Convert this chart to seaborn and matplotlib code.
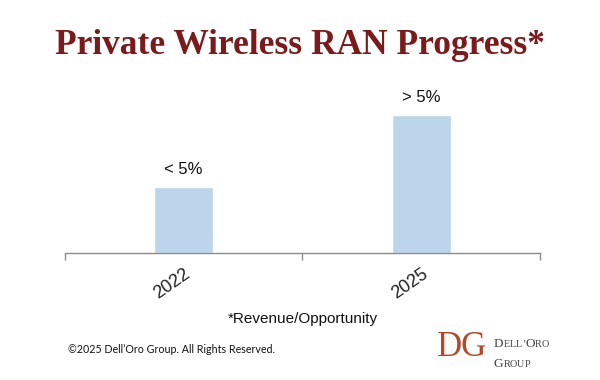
import matplotlib
matplotlib.use("Agg")
import matplotlib.pyplot as plt
import pandas as pd
import seaborn as sns

# chart data
years = ["2022", "2025"]
share = [2.4, 5.0]  # relative bar heights
bar_labels = ["< 5%", "> 5%"]

df = pd.DataFrame({"year": years, "share": share})

sns.set_theme(style="white")
plt.rcParams["font.family"] = ["Liberation Sans", "DejaVu Sans"]

fig = plt.figure(figsize=(6, 3.8), dpi=100)
ax = fig.add_axes([0.108, 0.334, 0.792, 0.437])

sns.barplot(data=df, x="year", y="share", color="#BDD5EA", width=0.25,
            saturation=1, ax=ax)
ax.bar_label(ax.containers[0], labels=bar_labels, padding=7, fontsize=12,
             color="#111111")

ax.set_xlim(-0.5, 1.5)
ax.set_ylim(0, 6)
ax.set_yticks([])
ax.set_ylabel("")
for side in ["top", "right", "left"]:
    ax.spines[side].set_visible(False)
ax.spines["bottom"].set_color("#8c8c8c")
ax.spines["bottom"].set_linewidth(1)

ax.set_xticks([-0.5, 0.5, 1.5], minor=True)
ax.tick_params(axis="x", which="minor", length=5, width=1, color="#8c8c8c",
               direction="out", bottom=True)
ax.tick_params(axis="x", which="major", length=0, pad=9, labelsize=13,
               labelcolor="#222222")
plt.setp(ax.get_xticklabels(), rotation=35, ha="right", rotation_mode="anchor")
ax.set_xlabel("*Revenue/Opportunity", fontsize=11, color="#111111", labelpad=7)

fig.text(0.5, 0.879, "Private Wireless RAN Progress*", ha="center", va="center",
         fontsize=25.5, fontweight="bold", color="#7B1A1A",
         family=["Liberation Serif", "DejaVu Serif"])

fig.text(0.113, 0.079, "\u00a92025 Dell\u2019Oro Group. All Rights Reserved.",
         ha="left", va="center", fontsize=7.7, color="#111111",
         family=["Lato", "DejaVu Sans"])

# logo
serif = ["Liberation Serif", "DejaVu Serif"]
fig.text(0.728, 0.085, "DG", ha="left", va="center", fontsize=25,
         color="#B5472A", family=serif)

renderer = fig.canvas.get_renderer()


def small_caps(x, y, word):
    # upper-case letters big, the rest in smaller capitals
    for ch in word:
        size = 9.5 if ch.isupper() else 7.3
        t = fig.text(x, y, ch.upper(), ha="left", va="baseline", fontsize=size,
                     color="#444444", family=serif)
        x += t.get_window_extent(renderer).width / fig.bbox.width


small_caps(0.823, 0.088, "Dell\u2019Oro")
small_caps(0.823, 0.035, "Group")

fig.savefig("out.png", dpi=100, facecolor="white")
